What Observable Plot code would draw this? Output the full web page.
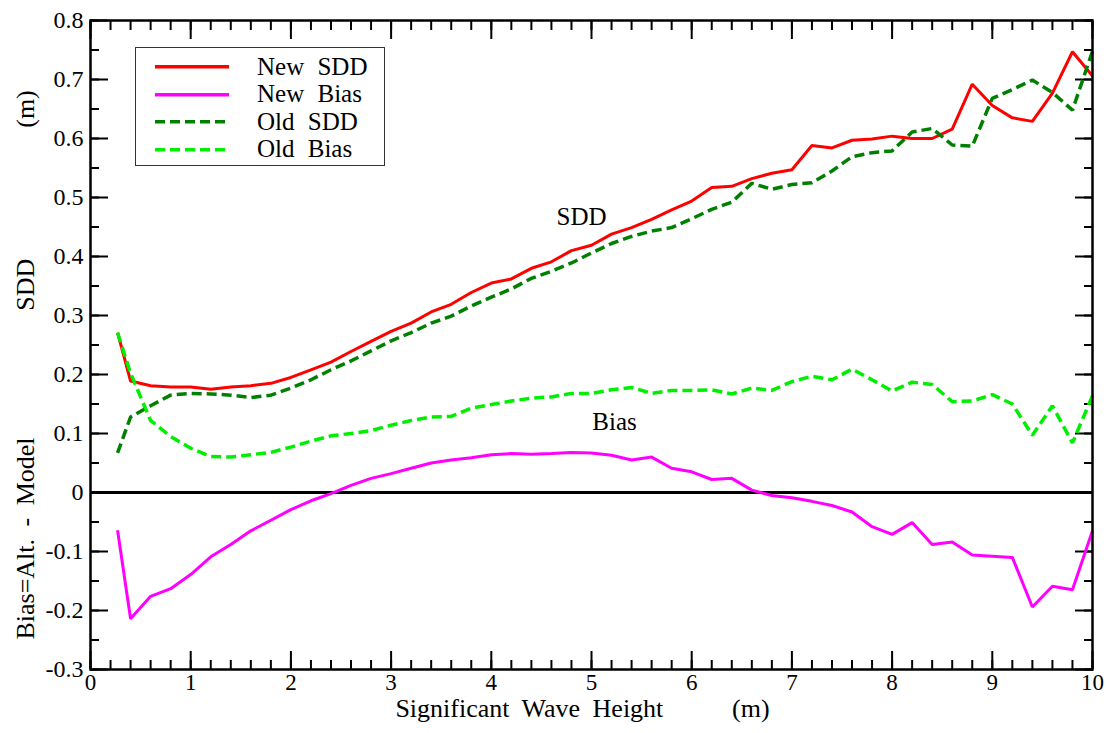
<!DOCTYPE html>
<html>
<head>
<meta charset="utf-8">
<script src="https://cdn.jsdelivr.net/npm/d3@7"></script>
<script src="https://cdn.jsdelivr.net/npm/@observablehq/plot@0.6"></script>
</head>
<body style="margin:0;padding:0;background:#fff">
<div id="wrap" style="position:relative;width:1109px;height:733px;font-family:'Liberation Serif'"></div>
<script>
// ---- data ----
const xs = [0.27,0.4,0.6,0.8,1.0,1.2,1.4,1.6,1.8,2.0,2.2,2.4,2.6,2.8,3.0,3.2,3.4,3.6,3.8,4.0,
            4.2,4.4,4.6,4.8,5.0,5.2,5.4,5.6,5.8,6.0,6.2,6.4,6.6,6.8,7.0,7.2,7.4,7.6,7.8,8.0,
            8.2,8.4,8.6,8.8,9.0,9.2,9.4,9.6,9.8,10.0];
const newSDD = [0.271,0.189,0.181,0.179,0.179,0.175,0.179,0.181,0.185,0.195,0.208,0.221,0.239,0.256,0.273,0.287,0.306,0.319,0.339,0.355,
                0.362,0.380,0.391,0.410,0.419,0.438,0.449,0.463,0.479,0.494,0.517,0.519,0.532,0.541,0.547,0.588,0.584,0.597,0.599,0.604,
                0.600,0.600,0.616,0.692,0.656,0.635,0.629,0.677,0.747,0.706];
const newBias = [-0.064,-0.214,-0.176,-0.163,-0.139,-0.109,-0.088,-0.065,-0.047,-0.029,-0.014,-0.002,0.012,0.024,0.032,0.041,0.050,0.055,0.059,0.064,
                 0.066,0.065,0.066,0.068,0.067,0.063,0.055,0.060,0.041,0.035,0.022,0.024,0.004,-0.005,-0.009,-0.015,-0.022,-0.033,-0.058,-0.071,
                 -0.051,-0.088,-0.084,-0.106,-0.108,-0.110,-0.194,-0.159,-0.165,-0.065];
const oldSDD = [0.067,0.128,0.147,0.165,0.168,0.167,0.165,0.161,0.165,0.177,0.191,0.208,0.223,0.240,0.257,0.271,0.287,0.299,0.316,0.331,
                0.345,0.363,0.375,0.389,0.406,0.422,0.434,0.443,0.449,0.464,0.480,0.492,0.524,0.514,0.522,0.525,0.545,0.569,0.576,0.579,
                0.611,0.617,0.589,0.587,0.668,0.683,0.699,0.678,0.648,0.748];
const oldBias = [0.271,0.202,0.122,0.095,0.075,0.061,0.060,0.064,0.068,0.077,0.087,0.096,0.100,0.105,0.114,0.122,0.128,0.129,0.143,0.149,
                 0.155,0.160,0.162,0.168,0.168,0.174,0.178,0.168,0.173,0.173,0.174,0.167,0.177,0.173,0.188,0.197,0.191,0.209,0.191,0.172,
                 0.187,0.183,0.154,0.155,0.166,0.150,0.097,0.147,0.084,0.164];

const seriesNames = ["New SDD", "New Bias", "Old SDD", "Old Bias"];
const seriesColors = ["#ff0000", "#ff00ff", "#008000", "#00ee00"];
const seriesDash = [null, null, "10,5", "10,5"];

const xTickLabels = [0,1,2,3,4,5,6,7,8,9,10];
const xMinorTicks = d3.range(0, 10.001, 0.2).map(d => +d.toFixed(1));
const yTickLabels = [-0.3,-0.2,-0.1,0,0.1,0.2,0.3,0.4,0.5,0.6,0.7,0.8];
const yMinorTicks = d3.range(-0.3, 0.8001, 0.05).map(d => +d.toFixed(2));

const annotText = ["SDD", "Bias"];
const annotX = [4.90, 5.23];
const annotY = [0.467, 0.120];

const xLabelParts = ["Significant Wave Height", "(m)"];
const xLabelPos = [4.38, 6.59];
const yLabelParts = ["Bias=Alt. - Model", "SDD", "(m)"];
const yLabelPos = [-0.078, 0.352, 0.65];

// ---- chart ----
const FONT = "Liberation Serif";
const seriesValues = [newSDD, newBias, oldSDD, oldBias];
const fmtY = d => d === 0 ? "0" : d.toFixed(1);

const tickStyle = {stroke: "#000", strokeWidth: 2, fill: "none", label: null};
const marks = [
  // inward tick marks on all four sides
  Plot.axisX({anchor: "bottom", ticks: xTickLabels, tickSize: -18, ...tickStyle}),
  Plot.axisX({anchor: "bottom", ticks: xMinorTicks, tickSize: -9, ...tickStyle}),
  Plot.axisX({anchor: "top", ticks: xTickLabels, tickSize: -18, ...tickStyle}),
  Plot.axisX({anchor: "top", ticks: xMinorTicks, tickSize: -9, ...tickStyle}),
  Plot.axisY({anchor: "left", ticks: yTickLabels, tickSize: -18, ...tickStyle}),
  Plot.axisY({anchor: "left", ticks: yMinorTicks, tickSize: -9, ...tickStyle}),
  Plot.axisY({anchor: "right", ticks: yTickLabels, tickSize: -18, ...tickStyle}),
  Plot.axisY({anchor: "right", ticks: yMinorTicks, tickSize: -9, ...tickStyle}),
  // tick labels
  Plot.axisX({anchor: "bottom", ticks: xTickLabels, tickSize: 0, tickPadding: 4, tickFormat: d => String(d),
              fontSize: 23, fontFamily: FONT, fill: "#000", label: null}),
  Plot.axisY({anchor: "left", ticks: yTickLabels, tickSize: 0, tickPadding: 7, tickFormat: fmtY,
              fontSize: 24, fontFamily: FONT, fill: "#000", label: null}),
  Plot.ruleY([0], {stroke: "#000", strokeWidth: 3}),
];
seriesValues.forEach((vals, k) => {
  marks.push(Plot.line(xs, {x: xs, y: vals, stroke: seriesColors[k], strokeWidth: seriesDash[k] ? 3.5 : 3,
    strokeDasharray: seriesDash[k] || undefined, strokeLinecap: "butt", strokeLinejoin: "miter"}));
});
marks.push(
  Plot.text(annotText, {x: annotX, y: annotY, text: annotText, fontSize: 25, fontFamily: FONT, fill: "#000"}),
  Plot.text(xLabelParts, {x: xLabelPos, text: xLabelParts, frameAnchor: "bottom", dy: 47, fontSize: 26, fontFamily: FONT, fill: "#000"}),
  Plot.text(yLabelParts, {y: yLabelPos, text: yLabelParts, frameAnchor: "left", textAnchor: "middle", dx: -65, rotate: -90,
                          fontSize: 26, fontFamily: FONT, fill: "#000"}),
  Plot.frame({stroke: "#000", strokeWidth: 2.5})
);

const chart = Plot.plot({
  width: 1109,
  height: 733,
  marginLeft: 90,
  marginRight: 17,
  marginTop: 20,
  marginBottom: 64,
  x: {domain: [0, 10], axis: null},
  y: {domain: [-0.3, 0.8], axis: null},
  marks
});
chart.setAttribute("font-family", FONT);
chart.style.fontFamily = "'Liberation Serif'";
chart.style.background = "#fff";
chart.querySelectorAll("text").forEach(t => {
  t.style.fontFamily = "'Liberation Serif'";
  t.style.wordSpacing = "6px";
});
const wrap = document.getElementById("wrap");
wrap.appendChild(chart);

// ---- legend ----
const legend = document.createElement("div");
Object.assign(legend.style, {position: "absolute", left: "135px", top: "47px", width: "250px", height: "119px",
  boxSizing: "border-box", border: "1.5px solid #333", background: "#fff"});
seriesNames.forEach((name, k) => {
  const row = document.createElement("div");
  Object.assign(row.style, {position: "absolute", left: "0px", top: (5 + k * 27.5) + "px", height: "27.5px", width: "100%"});
  const sw = d3.create("svg").attr("width", 74).attr("height", 27.5)
    .style("position", "absolute").style("left", "19px").style("top", "0px");
  sw.append("line").attr("x1", 0).attr("x2", 74).attr("y1", 13.75).attr("y2", 13.75)
    .attr("stroke", seriesColors[k]).attr("stroke-width", 3.5)
    .attr("stroke-dasharray", seriesDash[k]);
  row.appendChild(sw.node());
  const t = document.createElement("span");
  t.textContent = name;
  Object.assign(t.style, {position: "absolute", left: "121px", top: "50%", transform: "translateY(-52%)",
    fontSize: "25px", lineHeight: "1", wordSpacing: "7px", whiteSpace: "nowrap", color: "#000",
    fontFamily: "'Liberation Serif'"});
  row.appendChild(t);
  legend.appendChild(row);
});
wrap.appendChild(legend);
</script>
</body>
</html>
